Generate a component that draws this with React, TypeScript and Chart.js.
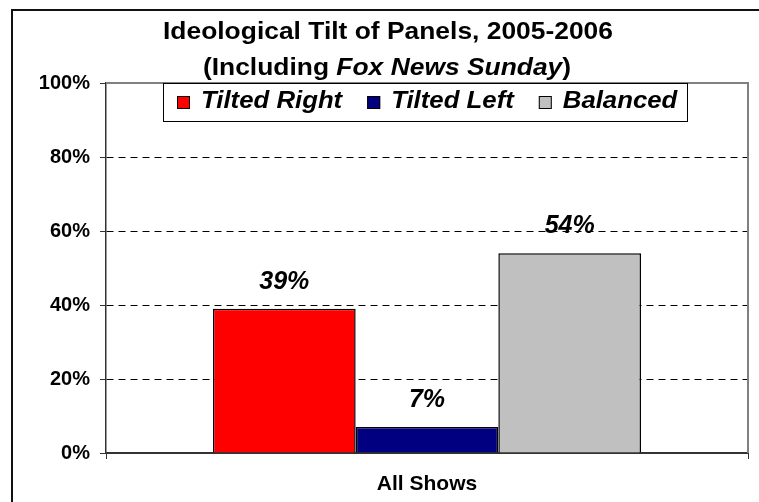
import React, { useEffect, useRef } from "react";
import { Chart, registerables } from "chart.js";

Chart.register(...registerables);

const categories = ["All Shows"];
const seriesNames = ["Tilted Right", "Tilted Left", "Balanced"];
const tiltedRight = [39];
const tiltedLeft = [7];
const balanced = [54];
const yMin = 0;
const yMax = 100;
const yStep = 20;
const titleLine1 = "Ideological Tilt of Panels, 2005-2006";
const titleLine2 = [
  { text: "(Including ", italic: false },
  { text: "Fox News Sunday", italic: true },
  { text: ")", italic: false },
];

const FAMILY = "'Liberation Sans', Arial, sans-serif";
const COLORS = ["#FF0000", "#000080", "#C0C0C0"];
const S = 1.12;

type Part = { text: string; italic: boolean };

function drawParts(ctx: CanvasRenderingContext2D, parts: Part[], cx: number, baseline: number, size: number, scale: number) {
  let total = 0;
  const widths: number[] = [];
  for (const p of parts) {
    ctx.font = `${p.italic ? "italic " : ""}bold ${size}px ${FAMILY}`;
    const w = ctx.measureText(p.text).width * scale;
    widths.push(w);
    total += w;
  }
  let x = cx - total / 2;
  parts.forEach((p, i) => {
    ctx.font = `${p.italic ? "italic " : ""}bold ${size}px ${FAMILY}`;
    ctx.save();
    ctx.translate(x, baseline);
    ctx.scale(scale, 1);
    ctx.fillText(p.text, 0, 0);
    ctx.restore();
    x += widths[i];
  });
}

const decorPlugin = {
  id: "decor",
  afterDatasetsDraw(chart: any) {
    const ctx: CanvasRenderingContext2D = chart.ctx;
    ctx.save();
    ctx.fillStyle = "#000";
    ctx.textAlign = "center";
    ctx.textBaseline = "alphabetic";
    ctx.font = `italic bold 25px ${FAMILY}`;
    chart.data.datasets.forEach((ds: any, i: number) => {
      const meta = chart.getDatasetMeta(i);
      meta.data.forEach((el: any, j: number) => {
        ctx.fillText(`${ds.data[j]}%`, el.x, el.y - 20);
      });
    });
    ctx.restore();
  },
  afterDraw(chart: any) {
    const ctx: CanvasRenderingContext2D = chart.ctx;
    const a = chart.chartArea;
    ctx.save();
    // plot border top & right
    ctx.strokeStyle = "#808080";
    ctx.lineWidth = 2;
    ctx.beginPath();
    ctx.moveTo(a.left, a.top);
    ctx.lineTo(a.right, a.top);
    ctx.lineTo(a.right, a.bottom);
    ctx.stroke();

    // outer frame
    ctx.strokeStyle = "#111";
    ctx.lineWidth = 2;
    ctx.beginPath();
    ctx.moveTo(12, chart.height);
    ctx.lineTo(12, 10);
    ctx.lineTo(chart.width, 10);
    ctx.stroke();

    // title
    ctx.fillStyle = "#000";
    ctx.textAlign = "left";
    ctx.textBaseline = "alphabetic";
    drawParts(ctx, [{ text: titleLine1, italic: false }], 388, 39, 24, 1.1);
    drawParts(ctx, titleLine2, 387, 75, 24, 1.1);

    // legend
    const bx = 163, by = 83, bw = 524, bh = 38;
    ctx.fillStyle = "#fff";
    ctx.fillRect(bx, by, bw, bh);
    ctx.strokeStyle = "#000";
    ctx.lineWidth = 1;
    ctx.strokeRect(bx + 0.5, by + 0.5, bw, bh);
    let x = bx + 14;
    ctx.font = `italic bold 23px ${FAMILY}`;
    seriesNames.forEach((name, i) => {
      ctx.fillStyle = COLORS[i];
      ctx.fillRect(x, 96, 13, 13);
      ctx.strokeStyle = "#000";
      ctx.lineWidth = 1;
      ctx.strokeRect(x + 0.5, 96.5, 12, 12);
      const tx = x + 24;
      ctx.fillStyle = "#000";
      ctx.save();
      ctx.translate(tx, 108);
      ctx.scale(S, 1);
      ctx.fillText(name, 0, 0);
      ctx.restore();
      const w = ctx.measureText(name).width * S;
      x = tx + w + 25;
    });
    ctx.restore();
  },
};

export default function App() {
  const ref = useRef<HTMLCanvasElement | null>(null);
  useEffect(() => {
    if (!ref.current) return;
    const series = [tiltedRight, tiltedLeft, balanced];
    const chart = new Chart(ref.current, {
      type: "bar",
      data: {
        labels: categories,
        datasets: seriesNames.map((name, i) => ({
          label: name,
          data: series[i],
          backgroundColor: COLORS[i],
          borderColor: "#000",
          borderWidth: 1.5,
          categoryPercentage: 2 / 3,
          barPercentage: 1,
        })),
      },
      options: {
        responsive: false,
        animation: false,
        devicePixelRatio: 1,
        layout: { padding: { top: 83, right: 11, bottom: 0, left: 0 } },
        plugins: {
          legend: { display: false },
          title: { display: false },
          tooltip: { enabled: false },
        },
        scales: {
          x: {
            grid: {
              offset: true,
              drawOnChartArea: false,
              drawTicks: true,
              tickLength: 6,
              tickColor: "#333",
              tickWidth: 1,
            },
            border: { display: true, color: "#333", width: 2 },
            ticks: {
              color: "#000",
              padding: 13,
              font: { family: FAMILY, size: 21, weight: "bold" },
            },
            afterFit: (s: any) => {
              s.height = 49;
            },
          },
          y: {
            min: yMin,
            max: yMax,
            ticks: {
              stepSize: yStep,
              color: "#000",
              padding: 10,
              font: { family: FAMILY, size: 20, weight: "bold" },
              callback: (v: any) => `${v}%`,
            },
            grid: {
              color: (c: any) =>
                c.tick && c.tick.value > yMin && c.tick.value < yMax ? "#000" : "rgba(0,0,0,0)",
              lineWidth: 1,
              tickColor: "#333",
              tickLength: 6,
              drawTicks: true,
            },
            border: { display: true, color: "#333", width: 1.5, dash: [7, 5] },
            afterFit: (s: any) => {
              s.width = 106;
            },
          },
        },
      },
      plugins: [decorPlugin],
    } as any);
    return () => chart.destroy();
  }, []);
  return (
    <div style={{ position: "absolute", left: 0, top: 0, width: 759, height: 502, background: "#fff" }}>
      <canvas ref={ref} width={759} height={502} style={{ display: "block" }} />
    </div>
  );
}
